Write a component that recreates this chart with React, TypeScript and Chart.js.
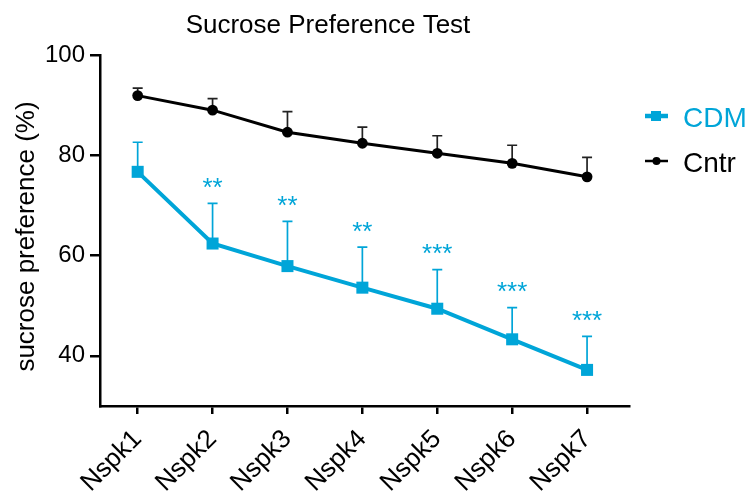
import React, { useEffect, useRef } from "react";
import { Chart, registerables } from "chart.js";

Chart.register(...registerables);

const categories = ["Nspk1", "Nspk2", "Nspk3", "Nspk4", "Nspk5", "Nspk6", "Nspk7"];
const cdmMean = [76.7, 62.4, 57.9, 53.6, 49.4, 43.3, 37.2];
const cdmUpper = [82.6, 70.4, 66.8, 61.7, 57.2, 49.6, 43.9];
const cntrMean = [91.9, 89.0, 84.6, 82.4, 80.4, 78.4, 75.7];
const cntrUpper = [93.4, 91.3, 88.7, 85.6, 83.9, 82.0, 79.6];
const cdmSignificance = ["", "**", "**", "**", "***", "***", "***"];
const yTicks = [40, 60, 80, 100];
const seriesNames = ["CDM", "Cntr"];
const titleText = "Sucrose Preference Test";
const yTitleText = "sucrose preference (%)";

const BLUE = "#00a5d8";
const BLACK = "#000000";
const FONT = "'Liberation Sans', Arial, Helvetica, sans-serif";

const overlayPlugin = {
  id: "overlay",
  beforeDatasetsDraw(chart: any) {
    const { ctx } = chart;
    const x = chart.scales.x;
    const y = chart.scales.y;
    const drawErr = (means: number[], uppers: number[], color: string, w: number) => {
      ctx.save();
      ctx.strokeStyle = color;
      ctx.lineWidth = w;
      means.forEach((m, i) => {
        const px = x.getPixelForValue(i);
        const y0 = y.getPixelForValue(m);
        const y1 = y.getPixelForValue(uppers[i]);
        ctx.beginPath();
        ctx.moveTo(px, y0);
        ctx.lineTo(px, y1);
        ctx.moveTo(px - 5, y1);
        ctx.lineTo(px + 5, y1);
        ctx.stroke();
      });
      ctx.restore();
    };
    drawErr(cntrMean, cntrUpper, "#222222", 1.7);
    drawErr(cdmMean, cdmUpper, BLUE, 1.7);
  },
  afterDraw(chart: any) {
    const { ctx } = chart;
    const x = chart.scales.x;
    const y = chart.scales.y;
    ctx.save();
    // title
    ctx.fillStyle = BLACK;
    ctx.font = `26px ${FONT}`;
    ctx.textAlign = "center";
    ctx.textBaseline = "alphabetic";
    ctx.fillText(titleText, 328, 33);
    // y axis title
    ctx.save();
    ctx.translate(34, 236.5);
    ctx.rotate(-Math.PI / 2);
    ctx.fillText(yTitleText, 0, 0);
    ctx.restore();
    // significance stars
    ctx.fillStyle = BLUE;
    ctx.font = `26px ${FONT}`;
    cdmSignificance.forEach((s, i) => {
      if (!s) return;
      const px = x.getPixelForValue(i);
      const py = y.getPixelForValue(cdmUpper[i]) - 7.5;
      ctx.fillText(s, px, py);
    });
    // legend
    const items = [
      { name: seriesNames[0], color: BLUE, lw: 4.5, cy: 116, shape: "rect" },
      { name: seriesNames[1], color: BLACK, lw: 2.5, cy: 161, shape: "circle" },
    ];
    items.forEach((it) => {
      ctx.strokeStyle = it.color;
      ctx.fillStyle = it.color;
      ctx.lineWidth = it.lw;
      ctx.beginPath();
      ctx.moveTo(645, it.cy);
      ctx.lineTo(668, it.cy);
      ctx.stroke();
      if (it.shape === "rect") {
        ctx.fillRect(651, it.cy - 5, 10, 10);
      } else {
        ctx.beginPath();
        ctx.arc(656.5, it.cy, 4, 0, Math.PI * 2);
        ctx.fill();
      }
      ctx.font = `28px ${FONT}`;
      ctx.textAlign = "left";
      ctx.textBaseline = "alphabetic";
      ctx.fillText(it.name, 683, it.cy + 10.5);
    });
    ctx.restore();
  },
};

export default function App() {
  const canvasRef = useRef<HTMLCanvasElement | null>(null);

  useEffect(() => {
    document.body.style.margin = "0";
    const canvas = canvasRef.current;
    if (!canvas) return;
    const chart = new Chart(canvas, {
      type: "line",
      data: {
        datasets: [
          {
            label: seriesNames[1],
            data: cntrMean.map((v, i) => ({ x: i, y: v })),
            borderColor: BLACK,
            backgroundColor: BLACK,
            borderWidth: 3,
            pointStyle: "circle",
            pointRadius: 5.4,
            pointBorderWidth: 0,
            tension: 0,
          },
          {
            label: seriesNames[0],
            data: cdmMean.map((v, i) => ({ x: i, y: v })),
            borderColor: BLUE,
            backgroundColor: BLUE,
            borderWidth: 4,
            pointStyle: "rect",
            pointRadius: 8.5,
            pointBorderWidth: 0,
            tension: 0,
          },
        ],
      },
      options: {
        animation: false,
        responsive: false,
        events: [],
        layout: { padding: { top: 55, right: 119, left: 0, bottom: 0 } },
        plugins: {
          legend: { display: false },
          title: { display: false },
          tooltip: { enabled: false },
        },
        scales: {
          x: {
            type: "linear",
            min: -0.503,
            max: 6.56,
            afterBuildTicks: (s: any) => {
              s.ticks = categories.map((_, i) => ({ value: i }));
            },
            afterFit: (s: any) => {
              s.height = 92;
            },
            ticks: {
              callback: (v: any) => categories[v as number] ?? "",
              autoSkip: false,
              maxRotation: 45,
              minRotation: 45,
              color: BLACK,
              padding: 10,
              font: { family: FONT, size: 26 },
            },
            grid: {
              display: true,
              drawOnChartArea: false,
              drawTicks: true,
              tickLength: 8,
              color: BLACK,
              lineWidth: 2.5,
            },
            border: { display: true, color: BLACK, width: 2.5 },
          },
          y: {
            type: "linear",
            min: 30,
            max: 100,
            afterBuildTicks: (s: any) => {
              s.ticks = yTicks.map((v) => ({ value: v }));
            },
            afterFit: (s: any) => {
              s.width = 100;
            },
            ticks: {
              color: BLACK,
              padding: 5,
              font: { family: FONT, size: 24 },
            },
            grid: {
              display: true,
              drawOnChartArea: false,
              drawTicks: true,
              tickLength: 10,
              color: BLACK,
              lineWidth: 2.5,
            },
            border: { display: true, color: BLACK, width: 2.5 },
          },
        },
      },
      plugins: [overlayPlugin],
    });
    return () => chart.destroy();
  }, []);

  return (
    <div style={{ width: 748, height: 498, background: "#fff" }}>
      <canvas ref={canvasRef} width={748} height={498} />
    </div>
  );
}
